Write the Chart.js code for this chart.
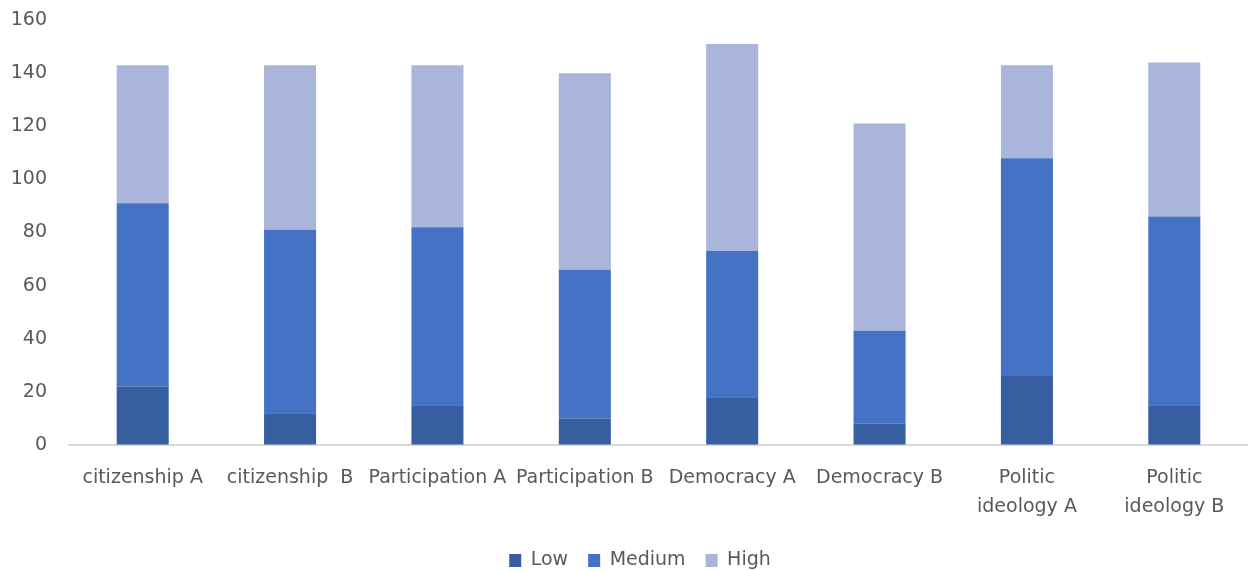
<!DOCTYPE html>
<html>
<head>
<meta charset="utf-8">
<script src="https://cdn.jsdelivr.net/npm/chart.js@4.4.1/dist/chart.umd.min.js"></script>
<style>
  html, body { margin: 0; padding: 0; background: #ffffff; }
  #wrap { width: 1248px; height: 571px; position: relative; }
</style>
</head>
<body>
<div id="wrap"><canvas id="c"></canvas></div>
<script>
const categories = [
  "citizenship A",
  "citizenship  B",
  "Participation A",
  "Participation B",
  "Democracy A",
  "Democracy B",
  ["Politic", "ideology A"],
  ["Politic", "ideology B"]
];
const lowValues    = [22, 12, 15, 10, 18, 8, 26, 15];
const mediumValues = [69, 69, 67, 56, 55, 35, 82, 71];
const highValues   = [52, 62, 61, 74, 78, 78, 35, 58];
const yTicks = [0, 20, 40, 60, 80, 100, 120, 140, 160];

const FONT = "'DejaVu Sans', 'Liberation Sans', sans-serif";
const TEXT = "#595959";

const chart = new Chart(document.getElementById('c'), {
  type: 'bar',
  data: {
    labels: categories,
    datasets: [
      { label: 'Low', data: lowValues, backgroundColor: '#365EA0' },
      { label: 'Medium', data: mediumValues, backgroundColor: '#4472C4' },
      { label: 'High', data: highValues, backgroundColor: '#A9B5DA' }
    ]
  },
  options: {
    responsive: true,
    maintainAspectRatio: false,
    animation: false,
    layout: { padding: { top: 20, right: 0, left: 0, bottom: -9 } },
    datasets: { bar: { categoryPercentage: 1.0, barPercentage: 0.353 } },
    plugins: {
      tooltip: { enabled: false },
      legend: {
        position: 'bottom',
        labels: {
          font: { family: FONT, size: 19 },
          color: TEXT,
          boxWidth: 12,
          boxHeight: 13,
          padding: 20
        }
      }
    },
    scales: {
      x: {
        stacked: true,
        grid: { display: false, drawTicks: false },
        border: { display: true, color: '#d9d9d9', width: 2 },
        ticks: {
          font: { family: FONT, size: 19, lineHeight: 1.5 },
          color: TEXT,
          maxRotation: 0,
          minRotation: 0,
          autoSkip: false,
          padding: 19
        },
        afterFit: (s) => { s.height = 86; }
      },
      y: {
        stacked: true,
        min: 0,
        max: 160,
        afterBuildTicks: (s) => { s.ticks = yTicks.map(v => ({ value: v })); },
        grid: { display: true, color: 'rgba(0,0,0,0)', drawTicks: true, tickLength: 22 },
        border: { display: false },
        ticks: {
          font: { family: FONT, size: 19 },
          color: TEXT,
          padding: 0
        },
        afterFit: (s) => { s.width = 69; }
      }
    }
  }
});

// Shift the legend slightly right, as in the reference layout
const origLegendDraw = chart.legend.draw;
chart.legend.draw = function () {
  const ctx = this.ctx;
  ctx.save();
  ctx.translate(16, 0);
  origLegendDraw.apply(this, arguments);
  ctx.restore();
};
chart.draw();
</script>
</body>
</html>
